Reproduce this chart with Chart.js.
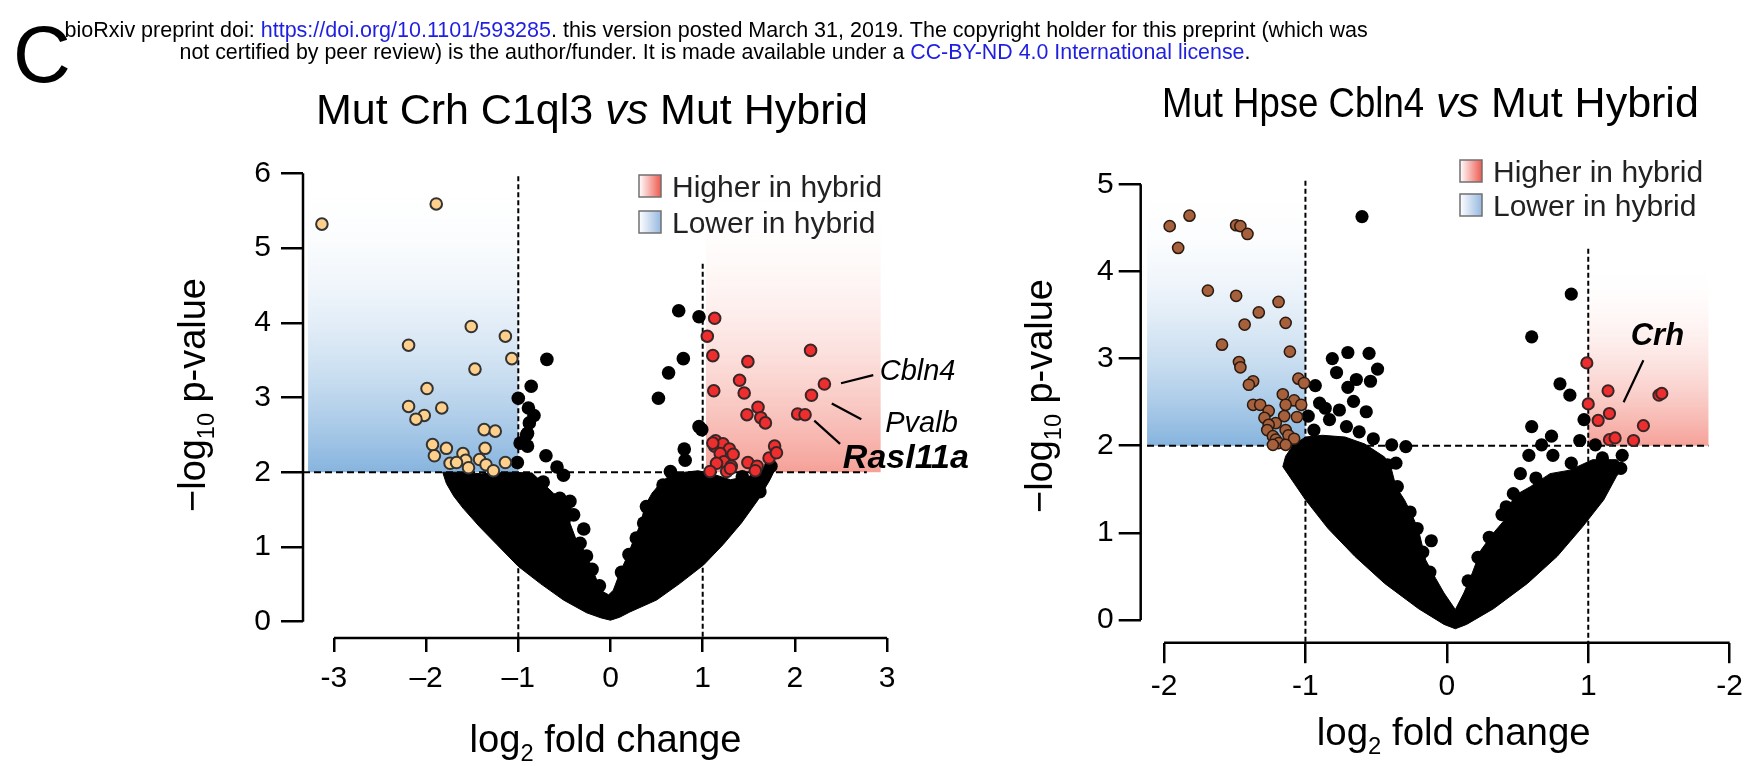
<!DOCTYPE html>
<html lang="en">
<head>
<meta charset="UTF-8">
<title>Volcano plots</title>
<script src="https://cdn.jsdelivr.net/npm/chart.js"></script>
<style>
  body { margin: 0; background: #fff; }
  canvas { position: absolute; left: 0; top: 0; }
</style>
</head>
<body>
<canvas id="leftChart" width="1749" height="766"></canvas>
<canvas id="rightChart" width="1749" height="766"></canvas>
<script>
const FONT = '"Liberation Sans", Arial, Helvetica, sans-serif';

// ---------- left panel: Mut Crh C1ql3 vs Mut Hybrid ----------
const leftXTicks = [-3, -2, -1, 0, 1, 2, 3];
const leftXTickText = ['-3', '–2', '–1', '0', '1', '2', '3'];
const leftYTicks = [0, 1, 2, 3, 4, 5, 6];

// traced outline of the dense cloud of non-significant genes
const leftCloud = [
  [-1.82, 2.00], [-1.78, 1.85], [-1.70, 1.68], [-1.60, 1.52], [-1.42, 1.27], [-1.23, 1.03],
  [-1.00, 0.74], [-0.76, 0.51], [-0.51, 0.29], [-0.26, 0.12], [-0.10, 0.05], [0.00, 0.02],
  [0.10, 0.06], [0.21, 0.13], [0.50, 0.29], [0.75, 0.51], [1.01, 0.76], [1.22, 1.03],
  [1.42, 1.32], [1.60, 1.63], [1.73, 1.90], [1.80, 2.08], [1.70, 2.10], [1.51, 1.95],
  [1.30, 1.90], [1.10, 1.98], [0.95, 2.02], [0.66, 1.98], [0.54, 1.85], [0.45, 1.72],
  [0.37, 1.54], [0.33, 1.32], [0.25, 1.09], [0.18, 0.87], [0.10, 0.65], [0.03, 0.42],
  [-0.02, 0.36], [-0.08, 0.40], [-0.15, 0.56], [-0.22, 0.78], [-0.30, 0.98], [-0.37, 1.09],
  [-0.44, 1.32], [-0.42, 1.50], [-0.48, 1.63], [-0.62, 1.72], [-0.73, 1.85], [-0.85, 1.99],
  [-1.10, 2.00], [-1.40, 1.98], [-1.65, 2.00], [-1.82, 2.00]
];
const leftBlack = [
  [-0.69, 3.51], [-0.86, 3.15], [-1.00, 2.99], [-0.89, 2.86], [-0.83, 2.76], [-0.88, 2.66],
  [-0.90, 2.52], [-0.91, 2.50], [-0.98, 2.39], [-0.90, 2.35], [-0.70, 2.22], [-1.01, 2.13],
  [-0.58, 2.07], [-0.51, 1.96], [-0.73, 1.87], [-0.55, 1.65], [-0.44, 1.61], [-0.40, 1.43],
  [-0.29, 1.24], [-0.26, 0.88], [-0.33, 1.05], [-0.20, 0.70], [-0.12, 0.48],
  [0.74, 4.16], [0.96, 4.08], [0.79, 3.52], [0.63, 3.33], [0.52, 2.99], [0.96, 2.61],
  [0.99, 2.57], [0.80, 2.31], [0.81, 2.16], [0.65, 2.01], [0.57, 1.83], [0.39, 1.54],
  [0.36, 1.32], [1.43, 1.94], [1.74, 2.08], [1.62, 1.74], [0.28, 1.12], [0.20, 0.90],
  [0.12, 0.66]
];
const leftLower = [
  [-3.13, 5.32], [-1.89, 5.59], [-1.51, 3.95], [-1.14, 3.82], [-2.19, 3.70], [-1.07, 3.52],
  [-1.47, 3.38], [-1.99, 3.12], [-2.19, 2.88], [-1.83, 2.86], [-2.02, 2.76], [-2.11, 2.71],
  [-1.37, 2.57], [-1.25, 2.55], [-1.93, 2.37], [-1.78, 2.32], [-1.36, 2.32], [-1.91, 2.22],
  [-1.60, 2.25], [-1.57, 2.16], [-1.74, 2.12], [-1.67, 2.13], [-1.42, 2.17], [-1.35, 2.10],
  [-1.54, 2.06], [-1.27, 2.02], [-1.14, 2.13]
];
const leftHigher = [
  [1.13, 4.06], [1.05, 3.82], [1.11, 3.56], [1.49, 3.48], [2.17, 3.63], [2.32, 3.18],
  [2.18, 3.03], [1.40, 3.23], [1.45, 3.06], [1.12, 3.09], [1.60, 2.87], [1.48, 2.77],
  [1.63, 2.73], [1.68, 2.66], [2.03, 2.78], [2.11, 2.77], [1.14, 2.42], [1.13, 2.35],
  [1.22, 2.38], [1.29, 2.31], [1.33, 2.24], [1.19, 2.25], [1.23, 2.14], [1.15, 2.12],
  [1.31, 2.08], [1.08, 2.01], [1.26, 2.01], [1.49, 2.13], [1.59, 2.08], [1.57, 2.02],
  [1.72, 2.19], [1.78, 2.35], [1.80, 2.26], [1.11, 2.39], [1.30, 2.05]
];
const leftGenes = [
  { text: 'Cbln4', style: 'italic', size: 29, at: [2.92, 3.23], from: [2.50, 3.19], to: [2.85, 3.30] },
  { text: 'Pvalb', style: 'italic', size: 29, at: [2.98, 2.54], from: [2.40, 2.92], to: [2.72, 2.71] },
  { text: 'Rasl11a', style: 'italic bold', size: 34, at: [2.52, 2.06], from: [2.21, 2.69], to: [2.49, 2.38] }
];

// ---------- right panel: Mut Hpse Cbln4 vs Mut Hybrid ----------
const rightXTicks = [-2, -1, 0, 1, 2];
const rightXTickText = ['-2', '-1', '0', '1', '-2'];
const rightYTicks = [0, 1, 2, 3, 4, 5];

const rightCloud = [
  [-1.14, 1.88], [-1.16, 1.76], [-1.08, 1.57], [-1.00, 1.38], [-0.84, 1.05], [-0.65, 0.73],
  [-0.44, 0.42], [-0.20, 0.13], [-0.02, -0.05], [0.06, -0.10], [0.14, -0.05], [0.33, 0.13],
  [0.57, 0.42], [0.78, 0.73], [0.96, 1.07], [1.11, 1.38], [1.20, 1.65], [1.25, 1.76],
  [1.20, 1.84], [1.03, 1.84], [0.87, 1.72], [0.73, 1.68], [0.59, 1.53], [0.47, 1.42],
  [0.43, 1.19], [0.33, 1.00], [0.24, 0.80], [0.18, 0.54], [0.12, 0.31], [0.06, 0.12],
  [-0.02, 0.31], [-0.08, 0.48], [-0.15, 0.69], [-0.20, 1.03], [-0.25, 1.22], [-0.30, 1.38],
  [-0.36, 1.53], [-0.39, 1.72], [-0.44, 1.87], [-0.58, 2.02], [-0.72, 2.10], [-0.88, 2.12],
  [-1.00, 2.10], [-1.09, 2.00], [-1.14, 1.88]
];
const rightBlack = [
  [-0.60, 4.63], [0.88, 3.74], [0.60, 3.25],
  [-0.70, 3.07], [-0.55, 3.06], [-0.81, 3.00], [-0.49, 2.88], [-0.78, 2.84], [-0.64, 2.76],
  [-0.54, 2.74], [-0.70, 2.67], [-0.93, 2.69], [-0.90, 2.49], [-0.66, 2.51], [-0.86, 2.43],
  [-0.76, 2.41], [-0.57, 2.39], [-0.98, 2.34], [-0.83, 2.30], [-0.71, 2.22], [-0.39, 2.01],
  [-0.29, 1.99], [-0.42, 1.78], [-0.36, 1.80], [-0.35, 1.53], [-0.26, 1.24], [-0.11, 0.91],
  [-0.12, 0.55], [-0.94, 2.18], [-0.62, 2.16], [-0.52, 2.08], [-0.21, 1.05], [-0.17, 0.78],
  [0.80, 2.71], [0.87, 2.58], [0.60, 2.22], [0.97, 2.30], [0.74, 2.11], [0.67, 2.01],
  [0.94, 2.06], [1.05, 2.01], [0.58, 1.89], [0.75, 1.89], [0.52, 1.68], [0.63, 1.63],
  [0.39, 1.21], [1.24, 1.89], [1.23, 1.74], [0.47, 1.45], [0.42, 1.30], [0.30, 0.95],
  [0.22, 0.72], [0.15, 0.45], [0.88, 1.80], [1.10, 1.86]
];
const rightLower = [
  [-1.96, 4.52], [-1.82, 4.64], [-1.90, 4.27], [-1.49, 4.53], [-1.46, 4.52], [-1.41, 4.43],
  [-1.69, 3.78], [-1.49, 3.72], [-1.19, 3.65], [-1.33, 3.53], [-1.43, 3.39], [-1.14, 3.41],
  [-1.59, 3.16], [-1.11, 3.08], [-1.47, 2.96], [-1.46, 2.90], [-1.37, 2.74], [-1.40, 2.70],
  [-1.05, 2.77], [-1.01, 2.72], [-1.16, 2.59], [-1.08, 2.52], [-1.14, 2.47], [-1.03, 2.47],
  [-1.37, 2.47], [-1.32, 2.47], [-1.26, 2.40], [-1.15, 2.34], [-1.06, 2.33], [-1.29, 2.32],
  [-1.21, 2.26], [-1.26, 2.24], [-1.27, 2.18], [-1.14, 2.18], [-1.23, 2.11], [-1.12, 2.12],
  [-1.08, 2.08], [-1.21, 2.07], [-1.19, 2.03], [-1.14, 2.01], [-1.23, 2.01]
];
const rightHigher = [
  [0.99, 2.95], [1.14, 2.63], [1.50, 2.58], [1.52, 2.60], [1.00, 2.48], [1.15, 2.37],
  [1.07, 2.29], [1.39, 2.23], [1.15, 2.07], [1.19, 2.09], [1.32, 2.06]
];
const rightGenes = [
  { text: 'Crh', style: 'italic bold', size: 31, at: [1.30, 3.16], from: [1.39, 2.98], to: [1.25, 2.50] }
];

const legendText = ['Higher in hybrid', 'Lower in hybrid'];
const headerLine1 = [
  ['bioRxiv preprint doi: ', '#000'], ['https://doi.org/10.1101/593285', '#1f1fe0'],
  ['. this version posted March 31, 2019. The copyright holder for this preprint (which was', '#000']
];
const headerLine2 = [
  ['not certified by peer review) is the author/funder. It is made available under a ', '#000'],
  ['CC-BY-ND 4.0 International license', '#1f1fe0'], ['.', '#000']
];

const pts = arr => arr.map(([x, y]) => ({ x, y }));

function setFont(ctx, style, size) {
  ctx.font = (style || '') + ' ' + size + 'px ' + FONT;
}
function runsWidth(ctx, runs, size) {
  let w = 0;
  runs.forEach(r => {
    setFont(ctx, r.style, size * (r.scale || 1));
    w += ctx.measureText(r.text).width * (r.sx || 1);
  });
  return w;
}
function drawRuns(ctx, runs, x, y, size, align) {
  const total = runsWidth(ctx, runs, size);
  let cx = align === 'center' ? x - total / 2 : x;
  ctx.save();
  ctx.textAlign = 'left';
  ctx.textBaseline = 'alphabetic';
  runs.forEach(r => {
    const s = size * (r.scale || 1);
    setFont(ctx, r.style, s);
    ctx.fillStyle = r.color || '#000';
    ctx.save();
    ctx.translate(cx, y + (r.dy || 0) * size);
    ctx.scale(r.sx || 1, 1);
    ctx.fillText(r.text, 0, 0);
    ctx.restore();
    cx += ctx.measureText(r.text).width * (r.sx || 1);
  });
  ctx.restore();
}
const fitSize = (ctx, runs, width) => 100 * width / runsWidth(ctx, runs, 100);

function makePanel(id, p) {
  const decor = {
    id: 'decor',
    beforeDatasetsDraw(chart) {
      const { ctx, scales: { x, y } } = chart;
      ctx.save();
      p.regions.forEach(r => {
        const yb = y.getPixelForValue(r.y0), yt = y.getPixelForValue(r.y1);
        const g = ctx.createLinearGradient(0, yt, 0, yb);
        g.addColorStop(0, 'rgba(255,255,255,0)');
        g.addColorStop(1, r.color);
        ctx.fillStyle = g;
        const x0 = x.getPixelForValue(r.x0);
        ctx.fillRect(x0, yt, x.getPixelForValue(r.x1) - x0, yb - yt);
      });
      ctx.strokeStyle = '#000';
      ctx.lineWidth = 2;
      ctx.setLineDash([5, 3]);
      p.vLines.forEach(v => {
        const px = x.getPixelForValue(v.x);
        ctx.beginPath();
        ctx.moveTo(px, y.getPixelForValue(v.top));
        ctx.lineTo(px, y.getPixelForValue(y.min));
        ctx.stroke();
      });
      ctx.setLineDash([7, 4]);
      const py = y.getPixelForValue(p.hLine.y);
      ctx.beginPath();
      ctx.moveTo(x.getPixelForValue(p.hLine.from), py);
      ctx.lineTo(x.getPixelForValue(p.hLine.to), py);
      ctx.stroke();
      ctx.restore();
    },
    afterDraw(chart) {
      const { ctx, scales: { x, y } } = chart;
      ctx.save();
      // offset axis lines
      ctx.strokeStyle = '#000';
      ctx.lineWidth = 2.5;
      ctx.beginPath();
      ctx.moveTo(x.left, y.getPixelForValue(p.yTicks[0]));
      ctx.lineTo(x.left, y.getPixelForValue(p.yTicks[p.yTicks.length - 1]));
      ctx.moveTo(x.getPixelForValue(p.xTicks[0]), y.bottom);
      ctx.lineTo(x.getPixelForValue(p.xTicks[p.xTicks.length - 1]), y.bottom);
      ctx.stroke();

      // legend
      const lg = p.legend;
      legendText.forEach((t, i) => {
        const top = lg.y + i * lg.gap;
        const g = ctx.createLinearGradient(lg.x, 0, lg.x + 22, 0);
        g.addColorStop(0, '#ffffff');
        g.addColorStop(1, i === 0 ? '#ee5a50' : '#96b8e0');
        ctx.fillStyle = g;
        ctx.fillRect(lg.x, top, 22, 22);
        ctx.strokeStyle = '#707070';
        ctx.lineWidth = 1.5;
        ctx.strokeRect(lg.x, top, 22, 22);
        drawRuns(ctx, [{ text: t, color: '#222' }], lg.x + 33, top + 22, 30);
      });

      // panel title
      drawRuns(ctx, p.title.runs, p.title.x, p.title.y, 43);

      // gene labels with leader lines
      ctx.strokeStyle = '#000';
      ctx.lineWidth = 2.2;
      p.genes.forEach(gn => {
        ctx.beginPath();
        ctx.moveTo(x.getPixelForValue(gn.from[0]), y.getPixelForValue(gn.from[1]));
        ctx.lineTo(x.getPixelForValue(gn.to[0]), y.getPixelForValue(gn.to[1]));
        ctx.stroke();
        drawRuns(ctx, [{ text: gn.text, style: gn.style }],
          x.getPixelForValue(gn.at[0]), y.getPixelForValue(gn.at[1]), gn.size);
      });

      // axis titles
      const xRuns = [{ text: 'log' }, { text: '2', scale: 0.62, dy: 0.24 }, { text: ' fold change' }];
      drawRuns(ctx, xRuns, p.xTitle.x, p.xTitle.y, fitSize(ctx, xRuns, p.xTitle.w));
      const yRuns = [{ text: '−log' }, { text: '10', scale: 0.62, dy: 0.24 }, { text: ' p-value' }];
      ctx.save();
      ctx.translate(p.yTitle.x, p.yTitle.y);
      ctx.rotate(-Math.PI / 2);
      drawRuns(ctx, yRuns, 0, 0, fitSize(ctx, yRuns, p.yTitle.w), 'center');
      ctx.restore();

      if (p.header) {
        setFont(ctx, '', 80);
        ctx.fillStyle = '#000';
        ctx.fillText('C', 13, 82);
        [[headerLine1, 64.6, 36.7, 1304], [headerLine2, 179.5, 59.3, 1072]].forEach(([line, hx, hy, hw]) => {
          const runs = line.map(([text, color]) => ({ text, color }));
          drawRuns(ctx, runs, hx, hy, fitSize(ctx, runs, hw));
        });
      }
      ctx.restore();
    }
  };

  const dot = (data, fill, stroke, r, bw, order) => ({
    data: pts(data), backgroundColor: fill, borderColor: stroke, pointRadius: r,
    pointBorderWidth: bw, borderWidth: bw, clip: false, order
  });

  return new Chart(document.getElementById(id), {
    type: 'scatter',
    data: {
      datasets: [
        dot(p.higher, '#ee2e2e', '#3a2626', p.r, 2, 0),
        dot(p.lower, p.lowerColor, p.lowerStroke, p.r, p.lowerBw, 1),
        dot(p.black, '#000', '#000', p.r + 1, 0, 2),
        {
          data: pts(p.cloud), showLine: true, fill: 'shape', tension: 0,
          backgroundColor: '#000', borderColor: '#000', borderWidth: 1,
          pointRadius: 0, clip: false, order: 3
        }
      ]
    },
    options: {
      responsive: false,
      animation: false,
      devicePixelRatio: 1,
      layout: { padding: p.pad },
      plugins: { legend: { display: false }, tooltip: { enabled: false } },
      scales: {
        x: {
          min: p.xMin, max: p.xMax, bounds: 'data',
          afterFit: s => { s.height = 80; },
          afterBuildTicks: s => { s.ticks = p.xTicks.map(value => ({ value })); },
          border: { display: false },
          grid: { drawOnChartArea: false, tickLength: p.xTickLen, color: '#000', lineWidth: 2.5 },
          ticks: {
            autoSkip: false, maxRotation: 0, padding: p.xTickPad, color: '#000',
            font: { size: 30, family: FONT },
            callback: (v, i) => p.xTickText[i]
          }
        },
        y: {
          min: p.yMin, max: p.yMax, bounds: 'data',
          afterFit: s => { s.width = 100; },
          afterBuildTicks: s => { s.ticks = p.yTicks.map(value => ({ value })); },
          border: { display: false },
          grid: { drawOnChartArea: false, tickLength: 22, color: '#000', lineWidth: 2.5 },
          ticks: {
            padding: p.yTickPad, color: '#000',
            font: { size: 30, family: FONT },
            callback: v => String(v)
          }
        }
      }
    },
    plugins: [decor]
  });
}

makePanel('leftChart', {
  cloud: leftCloud, black: leftBlack, lower: leftLower, higher: leftHigher, genes: leftGenes,
  lowerColor: '#ffd08c', lowerStroke: '#333333', lowerBw: 2, r: 5.8,
  xMin: -3.335, xMax: 3, yMin: -0.218, yMax: 6,
  xTicks: leftXTicks, xTickText: leftXTickText, yTicks: leftYTicks,
  pad: { left: 203, right: 861.9, top: 173.3, bottom: 48 },
  xTickLen: 14, xTickPad: 9, yTickPad: 10,
  regions: [
    { x0: -3.28, x1: -1, y0: 2, y1: 5.9, color: '#86b4de' },
    { x0: 1.036, x1: 2.93, y0: 2, y1: 5.75, color: '#f5a198' }
  ],
  vLines: [{ x: -1, top: 5.96 }, { x: 1, top: 4.79 }],
  hLine: { y: 2, from: -3.335, to: 2.78 },
  legend: { x: 639, y: 175, gap: 36 },
  title: { x: 316, y: 124, runs: [{ text: 'Mut Crh C1ql3 ' }, { text: 'vs', style: 'italic' }, { text: ' Mut Hybrid' }] },
  xTitle: { x: 469.6, y: 751.7, w: 272 },
  yTitle: { x: 205, y: 395, w: 234 },
  header: true
});

makePanel('rightChart', {
  cloud: rightCloud, black: rightBlack, lower: rightLower, higher: rightHigher, genes: rightGenes,
  lowerColor: '#a6603c', lowerStroke: '#2a1a10', lowerBw: 1.5, r: 5.6,
  xMin: -2.165, xMax: 2, yMin: -0.26, yMax: 5,
  xTicks: rightXTicks, xTickText: rightXTickText, yTicks: rightYTicks,
  pad: { left: 1040.7, right: 14.8, top: 184.3, bottom: 43.3 },
  xTickLen: 20.5, xTickPad: 6, yTickPad: 5,
  regions: [
    { x0: -2.12, x1: -1, y0: 2, y1: 4.95, color: '#86b4de' },
    { x0: 1.0, x1: 1.85, y0: 2, y1: 4.1, color: '#f5a198' }
  ],
  vLines: [{ x: -1, top: 5.04 }, { x: 1, top: 4.26 }],
  hLine: { y: 2, from: -2.12, to: 1.85 },
  legend: { x: 1460, y: 160, gap: 34 },
  title: { x: 1162, y: 116.7, runs: [{ text: 'Mut Hpse Cbln4', sx: 0.85 }, { text: ' ' }, { text: 'vs', style: 'italic' }, { text: ' Mut Hybrid' }] },
  xTitle: { x: 1316.8, y: 745, w: 274 },
  yTitle: { x: 1052, y: 396, w: 234 },
  header: false
});
</script>
</body>
</html>
